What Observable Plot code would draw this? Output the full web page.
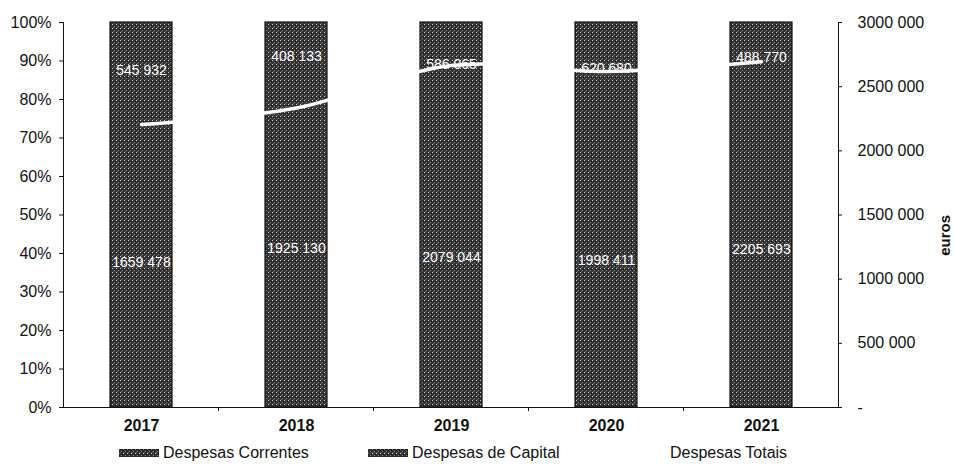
<!DOCTYPE html>
<html><head><meta charset="utf-8">
<script src="https://cdn.jsdelivr.net/npm/d3@7"></script>
<script src="https://cdn.jsdelivr.net/npm/@observablehq/plot@0.6"></script>
<style>
body{margin:0;background:#fff;font-family:"Liberation Sans",Arial,sans-serif;}
#wrap{width:955px;height:466px;position:relative;overflow:hidden;}
#legend{position:relative;width:955px;height:26px;font-size:16px;color:#111;}
.item{position:absolute;top:0;height:26px;display:flex;align-items:center;white-space:nowrap;}
.item svg{margin-right:4px;}
</style></head><body><div id="wrap"></div>
<script>
const years = ["2017","2018","2019","2020","2021"];
const correntes = [1659478,1925130,2079044,1998411,2205693];
const capital = [545932,408133,586065,620680,488770];
const seriesNames = ["Despesas Correntes","Despesas de Capital","Despesas Totais"];
const leftTicks = [0,0.1,0.2,0.3,0.4,0.5,0.6,0.7,0.8,0.9,1];
const rightTicks = [0,500000,1000000,1500000,2000000,2500000,3000000];
const rightMax = 3000000;
const rightTitle = "euros";

const fmt = v => v === 0 ? "-" : (v >= 1000 ? Math.floor(v/1000) + " " + String(v % 1000).padStart(3,"0") : String(v));

const long = [];
years.forEach((y,i) => {
  long.push({year:y, serie:seriesNames[0], value:correntes[i]});
  long.push({year:y, serie:seriesNames[1], value:capital[i]});
});
const totals = years.map((y,i) => ({year:y, total:correntes[i]+capital[i]}));

const chart = Plot.plot({
  width:955, height:440,
  marginTop:22, marginBottom:33, marginLeft:63, marginRight:117,
  style:{fontFamily:"'Liberation Sans', Arial, sans-serif", fontSize:"16px", color:"#111", background:"#fff"},
  x:{domain:years, paddingInner:0.6, paddingOuter:0.3, label:null},
  y:{domain:[0,1], label:null},
  marks:[
    Plot.barY(long, Plot.stackY({offset:"normalize", x:"year", y:"value", z:"serie", fill:"url(#tex)", shapeRendering:"crispEdges"})),
    Plot.barY(totals, Plot.stackY({offset:"normalize", x:"year", y:"total", fill:"none", stroke:"#111", strokeWidth:1.2})),
    Plot.text(long, Plot.stackY({offset:"normalize", x:"year", y:"value", z:"serie", text:d=>fmt(d.value), fill:"white", fontSize:14})),
    Plot.line(totals, {x:"year", y:d=>d.total/rightMax, stroke:"white", strokeWidth:3.5, curve:"catmull-rom"}),
    Plot.axisY({anchor:"left", ticks:leftTicks, tickFormat:d=>Math.round(d*100)+"%", tickSize:4, tickPadding:8, fontSize:16}),
    Plot.axisY({anchor:"right", ticks:rightTicks.map(v=>v/rightMax), tickFormat:d=>fmt(Math.round(d*rightMax)), tickSize:3, tickPadding:16, textAnchor:"start", fontSize:16}),
    Plot.axisX({tickSize:0, tickPadding:12, fontWeight:"bold", fontSize:16}),
    Plot.frame({anchor:"left"}),
    Plot.frame({anchor:"right"}),
    Plot.frame({anchor:"bottom"}),
    Plot.text([rightTitle], {frameAnchor:"right", dx:107, rotate:-90, fontWeight:"bold", fontSize:15})
  ]
});

const svg = d3.select(chart);
const defs = svg.insert("defs", ":first-child");
const p = defs.append("pattern").attr("id","tex").attr("width",4).attr("height",4).attr("patternUnits","userSpaceOnUse");
p.append("rect").attr("width",4).attr("height",4).attr("fill","#333333");
p.append("rect").attr("x",0).attr("y",0).attr("width",1).attr("height",1).attr("fill","#d0d0d0");
p.append("rect").attr("x",2).attr("y",2).attr("width",1).attr("height",1).attr("fill","#808080");
p.append("rect").attr("x",1).attr("y",3).attr("width",1).attr("height",1).attr("fill","#5a5a5a");
p.append("rect").attr("x",3).attr("y",1).attr("width",1).attr("height",1).attr("fill","#1a1a1a");

// category boundary ticks on the x axis
const xs = chart.scale("x");
const ys = chart.scale("y");
const base = ys.apply(0);
const gap = (xs.step - xs.bandwidth)/2;
const g = svg.append("g").attr("stroke","#111");
years.slice(1).forEach(y => {
  const bx = xs.apply(y) - gap;
  g.append("line").attr("x1",bx).attr("x2",bx).attr("y1",base).attr("y2",base+4);
});

document.getElementById("wrap").appendChild(chart);

const legend = document.createElement("div");
legend.id = "legend";
const items = [
  {name:seriesNames[0], left:119, kind:"bar"},
  {name:seriesNames[1], left:368, kind:"bar"},
  {name:seriesNames[2], left:622, kind:"line"}
];
items.forEach(it => {
  const d = document.createElement("div");
  d.className = "item";
  d.style.left = it.left + "px";
  const sw = it.kind === "bar"
    ? `<svg width="40" height="8"><rect width="40" height="8" fill="url(#tex)" stroke="#1a1a1a"/></svg>`
    : `<svg width="44" height="8"><line x1="0" x2="44" y1="4" y2="4" stroke="white" stroke-width="3"/></svg>`;
  d.innerHTML = sw + `<span>${it.name}</span>`;
  legend.appendChild(d);
});
document.getElementById("wrap").appendChild(legend);
</script></body></html>
